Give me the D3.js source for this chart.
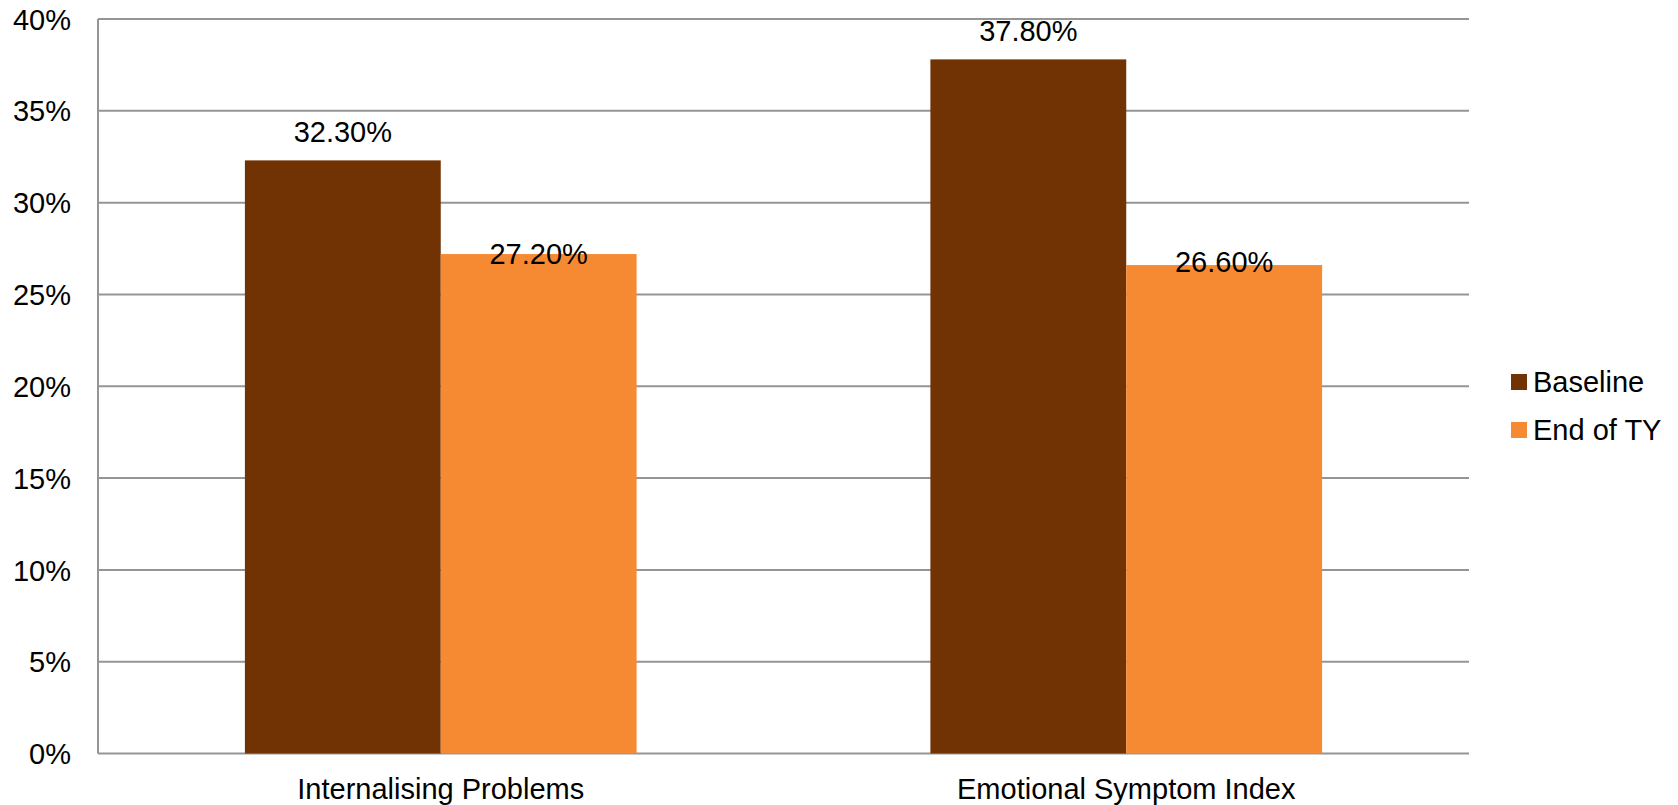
<!DOCTYPE html>
<html>
<head>
<meta charset="utf-8">
<script src="https://cdn.jsdelivr.net/npm/d3@7"></script>
<style>
  html, body { margin: 0; padding: 0; background: #fff; }
  svg { display: block; font-family: "Liberation Sans", Arial, sans-serif; }
</style>
</head>
<body>
<svg id="chart" width="1678" height="805"></svg>
<script>
// Categories, series and values (percent)
const categories = ["Internalising Problems", "Emotional Symptom Index"];
const seriesNames = ["Baseline", "End of TY"];
const baseline = [32.3, 37.8];
const endOfTY = [27.2, 26.6];
const yTicks = [0, 5, 10, 15, 20, 25, 30, 35, 40];
const colors = ["#713204", "#F68A33"];

const seriesValues = [baseline, endOfTY];

const svg = d3.select("#chart");
const plotLeft = 98, plotRight = 1469, plotTop = 19, plotBottom = 753.5;
const fontSize = 29;

const x0 = d3.scaleBand().domain(categories).range([plotLeft, plotRight]).paddingInner(0).paddingOuter(0);
// bars are 2/(2+1.5) of each band => gap equals 150% of bar width
const barW = x0.bandwidth() / 3.5;
const x1 = d3.scaleBand().domain(seriesNames).range([0, barW * 2]);
const y = d3.scaleLinear().domain([0, 40]).range([plotBottom, plotTop]);

// horizontal gridlines
svg.append("g")
  .selectAll("line")
  .data(yTicks)
  .join("line")
  .attr("x1", plotLeft).attr("x2", plotRight)
  .attr("y1", d => y(d)).attr("y2", d => y(d))
  .attr("stroke", "#959595").attr("stroke-width", 2);

// left axis line
svg.append("line")
  .attr("x1", plotLeft).attr("x2", plotLeft)
  .attr("y1", plotTop).attr("y2", plotBottom)
  .attr("stroke", "#959595").attr("stroke-width", 2);

// y tick labels
const yAxis = d3.axisLeft(y).tickValues(yTicks).tickFormat(d => d + "%").tickSize(0).tickPadding(27);
const yg = svg.append("g").attr("transform", `translate(${plotLeft},0)`).call(yAxis);
yg.select(".domain").remove();
yg.selectAll("text")
  .attr("font-size", fontSize)
  .attr("font-family", "Liberation Sans, Arial, sans-serif")
  .attr("dy", "0.35em")
  .attr("fill", "#000");

// bars
const groups = svg.append("g")
  .selectAll("g")
  .data(categories)
  .join("g")
  .attr("transform", d => `translate(${x0(d) + (x0.bandwidth() - barW * 2) / 2},0)`);

const cells = (d, i) => seriesNames.map((s, j) => ({ s, v: seriesValues[j][i], j, i }));

groups.selectAll("rect")
  .data(cells)
  .join("rect")
  .attr("x", d => x1(d.s))
  .attr("width", x1.bandwidth())
  .attr("y", d => y(d.v))
  .attr("height", d => y(0) - y(d.v))
  .attr("fill", d => colors[d.j]);

// value labels: baseline labels sit above the bar, end-of-year labels straddle the bar top
const labelShift = d => d.j === 0 ? -18 : (d.i === 0 ? 10.3 : 6.7);
groups.selectAll("text")
  .data(cells)
  .join("text")
  .attr("x", d => x1(d.s) + x1.bandwidth() / 2)
  .attr("y", d => y(d.v) + labelShift(d))
  .attr("text-anchor", "middle")
  .attr("font-size", fontSize)
  .attr("fill", "#000")
  .text(d => d.v.toFixed(2) + "%");

// category labels
svg.append("g")
  .selectAll("text")
  .data(categories)
  .join("text")
  .attr("x", d => x0(d) + x0.bandwidth() / 2)
  .attr("y", 799.3)
  .attr("text-anchor", "middle")
  .attr("font-size", fontSize)
  .attr("fill", "#000")
  .text(d => d);

// legend
const legend = svg.append("g")
  .selectAll("g")
  .data(seriesNames)
  .join("g")
  .attr("transform", (d, i) => `translate(1511,${374 + i * 48})`);
legend.append("rect").attr("width", 16).attr("height", 16).attr("fill", (d, i) => colors[i]);
legend.append("text")
  .attr("x", 22).attr("y", 18.3)
  .attr("font-size", fontSize)
  .attr("fill", "#000")
  .text(d => d);
</script>
</body>
</html>
